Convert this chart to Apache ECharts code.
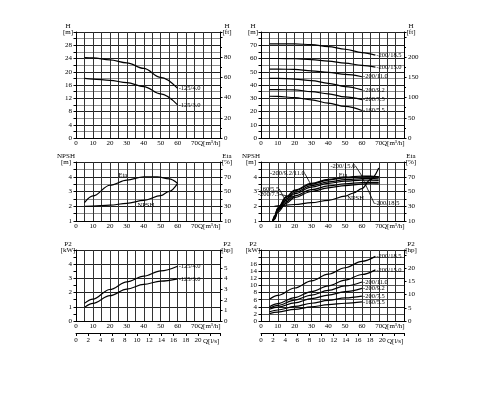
<!DOCTYPE html>
<html><head><meta charset="utf-8">
<script src="https://cdn.jsdelivr.net/npm/echarts@6/dist/echarts.min.js"></script>
<style>html,body{margin:0;padding:0;background:#fff}#c{width:500px;height:400px}</style>
</head><body><div id="c"></div>
<script>
// ---------- DATA ----------
// Panel 1: H [m] vs Q [m3/h]
const qSmall = [5, 10, 20, 30, 40, 50, 60];
const h125_40 = [24.3, 24.2, 23.6, 22.7, 21.0, 18.3, 15.0];
const h125_30 = [18.0, 17.8, 17.4, 16.7, 15.5, 13.3, 10.0];
// Panel 2: H [m] vs Q
const qBig = [5, 10, 20, 30, 40, 50, 60, 68];
const h200_185 = [71, 71, 71, 70.5, 69, 67, 64.5, 62.5];
const h200_150 = [60, 60, 59.8, 59.2, 58, 56.5, 54.8, 53.5];
const h200_110 = [52, 52, 51.8, 50.7, 49.5, 48, 46.2];
const h200_92 = [45, 45, 44.5, 43.3, 41.3, 38.8, 36.3];
const h200_75 = [36.5, 36.5, 36.3, 35, 33.3, 31, 29];
const h160_55 = [31.5, 31.4, 30.5, 28.8, 26.3, 23.8, 20.8];
// Panel 3: NPSH [m] and Eta [%]
const qEta1 = [5, 10, 20, 30, 40, 48, 55, 60];
const eta125 = [35, 44, 58.5, 65.4, 70, 70, 67, 61];
const qNpsh1 = [5, 10, 20, 30, 40, 50, 55, 60];
const npsh125 = [2.0, 2.01, 2.07, 2.2, 2.4, 2.72, 3.0, 3.55];
// Panel 4: NPSH [m] and Eta [%]
const qEta2 = [7, 8, 10, 15, 20, 30, 40, 50, 60, 65, 70];
const eta200_150 = [10, 17, 28, 43, 52, 61, 66.5, 69.5, 71, 71, 70];
const eta200_185 = [10, 16, 27, 42, 51, 60, 65.5, 68.5, 70, 70.3, 69.8];
const eta200_110 = [10, 15, 26, 40, 49, 58, 63, 66, 67.5, 67.8, 67];
const eta200_92 = [10, 14, 25, 38, 47, 56, 61, 64, 65.5, 65.5, 65];
const eta160_55 = [10, 13, 24, 36, 44, 52.5, 57.5, 60.5, 62, 62.5, 62.3];
const eta200_75 = [10, 12, 22, 34, 42, 50, 55, 58, 60, 60.5, 60.3];
const qNpsh2 = [8, 10, 20, 30, 40, 50, 55, 60, 65, 70];
const npsh200 = [2.0, 2.02, 2.12, 2.24, 2.4, 2.68, 2.9, 3.2, 3.8, 4.6];
// Panel 5: P2 [kW]
const p125_40 = [1.24, 1.54, 2.22, 2.76, 3.16, 3.53, 3.86];
const p125_30 = [0.96, 1.24, 1.78, 2.25, 2.58, 2.81, 2.97];
// Panel 6: P2 [kW]
const p200_185 = [6.1, 7.2, 9.3, 11.3, 13.2, 15.0, 16.8, 18.2];
const p200_150 = [4.0, 4.9, 6.6, 8.3, 9.9, 11.5, 13.1, 14.4];
const p200_110 = [3.6, 4.4, 5.9, 7.3, 8.6, 9.9, 11.0];
const p200_92 = [3.3, 3.9, 5.1, 6.3, 7.3, 8.3, 9.2];
const p200_75 = [2.6, 3.1, 4.1, 5.0, 5.8, 6.5, 7.0];
const p160_55 = [2.1, 2.5, 3.3, 4.0, 4.6, 5.0, 5.4];

// ---------- CHART ----------
const FONT = 'Liberation Serif';
const QMAX = 85;
const M_PER_FT = 0.3048, KW_PER_HP = 0.7457, M3H_PER_LS = 3.6;

const grids = [
  {left: 76, top: 32, width: 144, height: 106},
  {left: 261, top: 32, width: 143, height: 106},
  {left: 76, top: 162, width: 144, height: 59},
  {left: 261, top: 162, width: 143, height: 59},
  {left: 76, top: 250, width: 144, height: 71},
  {left: 261, top: 250, width: 143, height: 71}
];

const txt = {fontFamily: FONT, color: '#000', fontSize: 7};

function qAxis(g) {
  return {
    type: 'value', gridIndex: g, min: 0, max: QMAX, interval: 5,
    axisLine: {onZero: false, lineStyle: {color: '#000', width: 1}},
    axisTick: {show: false},
    axisLabel: Object.assign({margin: 2, formatter: v => (v % 10 === 0 && v <= 70) ? String(v) : ''}, txt),
    splitLine: {show: true, lineStyle: {color: '#333', width: 1}},
    name: 'Q[m³/h]', nameLocation: 'end', nameGap: -22, nameMoveOverlap: false,
    nameTextStyle: Object.assign({align: 'left', verticalAlign: 'top', padding: [2, 0, 0, 0]}, txt)
  };
}
function lsAxis(g) {
  return {
    type: 'value', gridIndex: g, position: 'bottom', offset: 12,
    min: 0, max: QMAX / M3H_PER_LS, interval: 2,
    axisLine: {onZero: false, lineStyle: {color: '#000', width: 1}},
    axisTick: {show: true, length: 3, lineStyle: {color: '#000'}},
    axisLabel: Object.assign({margin: 4, formatter: v => v <= 20 ? String(v) : ''}, txt),
    splitLine: {show: false},
    name: 'Q[l/s]', nameLocation: 'end', nameGap: -17, nameMoveOverlap: false,
    nameTextStyle: Object.assign({align: 'left', verticalAlign: 'top', padding: [5, 0, 0, 0]}, txt)
  };
}
function leftAxis(g, min, max, interval, showFn, name, colors, padR) {
  return {
    type: 'value', gridIndex: g, position: 'left', min, max, interval,
    axisLine: {show: true, onZero: false, lineStyle: {color: '#000', width: 1}},
    axisTick: {show: true, length: 2.5, lineStyle: {color: '#000'}},
    axisLabel: Object.assign({margin: 4, formatter: v => showFn(v) ? String(v) : ''}, txt),
    splitLine: {show: true, lineStyle: {color: colors, width: 1}},
    name, nameLocation: 'end', nameGap: -3, nameMoveOverlap: false,
    nameTextStyle: Object.assign({align: 'center', verticalAlign: 'bottom', lineHeight: 6, padding: [0, padR, 0, 0]}, txt)
  };
}
function rightAxis(g, min, max, interval, showFn, name, minor, padL) {
  return {
    type: 'value', gridIndex: g, position: 'right', min, max, interval,
    axisLine: {show: true, onZero: false, lineStyle: {color: '#000', width: 1}},
    axisTick: {show: true, length: 2.5, lineStyle: {color: '#000'}},
    minorTick: {show: !!minor, splitNumber: minor || 5, length: 2, lineStyle: {color: '#000'}},
    axisLabel: Object.assign({margin: 4, formatter: v => showFn(v) ? String(v) : ''}, txt),
    splitLine: {show: false},
    name, nameLocation: 'end', nameGap: -3, nameMoveOverlap: false,
    nameTextStyle: Object.assign({align: 'center', verticalAlign: 'bottom', lineHeight: 6, padding: [0, 0, 0, padL]}, txt)
  };
}

const HL = ['#222', '#8a8a8a'];
const xAxis = [0, 1, 2, 3, 4, 5].map(qAxis).concat([lsAxis(4), lsAxis(5)]);
const yAxis = [
  leftAxis(0, 0, 32, 2, v => v % 4 === 0 && v < 32, 'H\n[m]', HL, 16),
  rightAxis(0, 0, 32 / M_PER_FT, 20, v => v < 100, 'H\n[ft]', 2, 14),
  leftAxis(1, 0, 80, 5, v => v % 10 === 0 && v < 80, 'H\n[m]', HL, 16),
  rightAxis(1, 0, 80 / M_PER_FT, 50, v => v < 250, 'H\n[ft]', 2, 14),
  leftAxis(2, 1, 5, 0.5, v => Number.isInteger(v) && v < 5, 'NPSH\n[m]', HL, 20),
  rightAxis(2, 10, 90, 10, v => (v - 10) % 20 === 0 && v < 90, 'Eta\n[%]', 0, 14),
  leftAxis(3, 1, 5, 0.5, v => Number.isInteger(v) && v < 5, 'NPSH\n[m]', HL, 20),
  rightAxis(3, 10, 90, 10, v => (v - 10) % 20 === 0 && v < 90, 'Eta\n[%]', 0, 14),
  leftAxis(4, 0, 5, 0.5, v => Number.isInteger(v) && v < 5, 'P2\n[kW]', ['#222', 'rgba(0,0,0,0)'], 16),
  rightAxis(4, 0, 5 / KW_PER_HP, 1, v => v < 6, 'P2\n[hp]', 0, 14),
  leftAxis(5, 0, 20, 2, v => v < 18, 'P2\n[kW]', ['#222', '#555'], 16),
  rightAxis(5, 0, 20 / KW_PER_HP, 5, v => v < 25, 'P2\n[hp]', 0, 14)
];

const labTxt = {fontFamily: FONT, color: '#000', fontSize: 6.5};

function base(xi, yi, xs, ys) {
  return {
    type: 'line', xAxisIndex: xi, yAxisIndex: yi,
    data: xs.map((x, i) => [x, ys[i]]),
    smooth: 0.35, smoothMonotone: 'x',
    symbol: 'circle', symbolSize: 0.1, showSymbol: true,
    lineStyle: {color: '#000', width: 1.2}, itemStyle: {color: '#000', borderWidth: 0},
    label: Object.assign({show: false}, labTxt),
    silent: true, z: 5
  };
}
function endCurve(xi, yi, xs, ys, text) {
  const s = base(xi, yi, xs, ys);
  const k = s.data.length - 1;
  s.data[k] = {value: s.data[k], label: {show: true, position: 'right', distance: 1, formatter: text}};
  return s;
}
// annotated curve: label on the point at Q = atQ, moved by dx/dy, with optional guide line
function annCurve(xi, yi, xs, ys, atQ, text, dx, dy, guide) {
  const s = base(xi, yi, xs, ys);
  const k = xs.indexOf(atQ);
  s.data[k] = {value: s.data[k], label: {show: true, position: 'inside', formatter: text}};
  s.labelLayout = {dx, dy};
  s.labelLine = {show: !!guide, lineStyle: {color: '#000', width: 0.8}};
  return s;
}

const series = [
  endCurve(0, 0, qSmall, h125_40, '-125/4.0'),
  endCurve(0, 0, qSmall, h125_30, '-125/3.0'),

  endCurve(1, 2, qBig, h200_185, '-200/18.5'),
  endCurve(1, 2, qBig, h200_150, '-200/15.0'),
  endCurve(1, 2, qSmall, h200_110, '-200/11.0'),
  endCurve(1, 2, qSmall, h200_92, '-200/9.2'),
  endCurve(1, 2, qSmall, h200_75, '-200/7.5'),
  endCurve(1, 2, qSmall, h160_55, '-160/5.5'),

  annCurve(2, 5, qEta1, eta125, 30, 'Eta', -4, -5, false),
  annCurve(2, 4, qNpsh1, npsh125, 40, 'NPSH', 2, 5, false),

  annCurve(3, 7, qEta2, eta200_150, 60, '-200/15.0', -19, -10, true),
  annCurve(3, 7, qEta2, eta200_185, 60, '-200/18.5', 25, 27, true),
  annCurve(3, 7, qEta2, eta200_110, 30, '-200/9.2/11.0', -24, -12, true),
  annCurve(3, 7, qEta2, eta200_92, 50, 'Eta', -2, -6, false),
  annCurve(3, 7, qEta2, eta160_55, 15, '-160/5.5', -18, -13, true),
  annCurve(3, 7, qEta2, eta200_75, 20, '-200/7.5', -26, -3, true),
  annCurve(3, 6, qNpsh2, npsh200, 55, 'NPSH', 2, 5, false),

  endCurve(4, 8, qSmall, p125_40, '-125/4.0'),
  endCurve(4, 8, qSmall, p125_30, '-125/3.0'),

  endCurve(5, 10, qBig, p200_185, '-200/18.5'),
  endCurve(5, 10, qBig, p200_150, '-200/15.0'),
  endCurve(5, 10, qSmall, p200_110, '-200/11.0'),
  endCurve(5, 10, qSmall, p200_92, '-200/9.2'),
  endCurve(5, 10, qSmall, p200_75, '-200/7.5'),
  endCurve(5, 10, qSmall, p160_55, '-160/5.5')
];

const chart = echarts.init(document.getElementById('c'), null, {renderer: 'canvas'});
chart.setOption({
  backgroundColor: '#fff',
  animation: false,
  textStyle: {fontFamily: FONT},
  grid: grids,
  xAxis, yAxis, series
});
</script></body></html>
